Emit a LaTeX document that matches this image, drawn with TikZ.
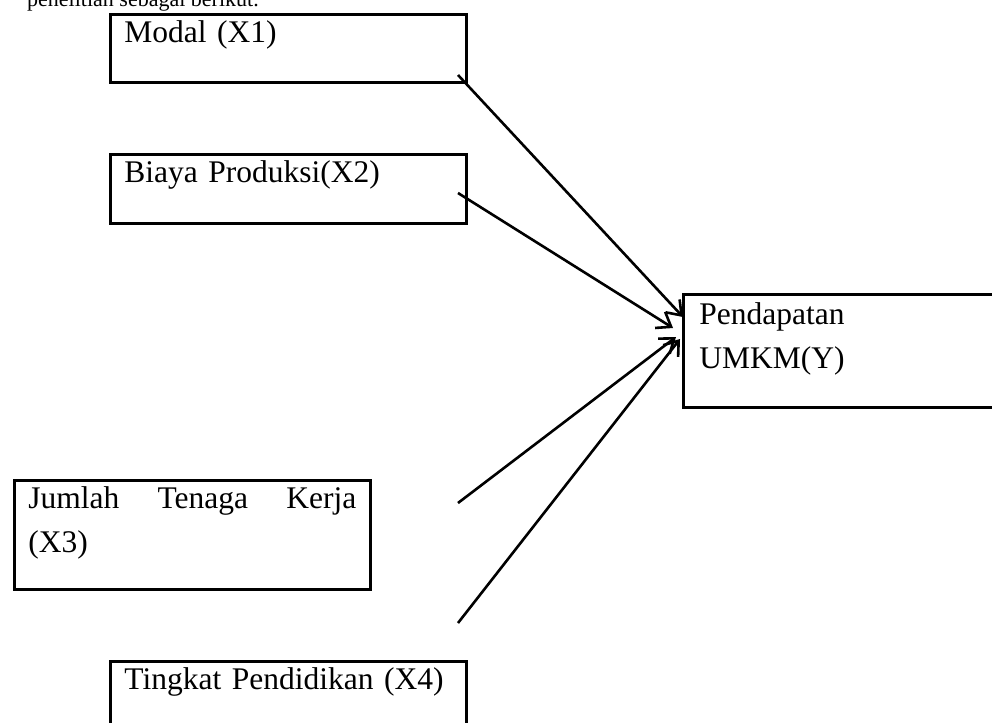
\documentclass[tikz,border=0pt]{standalone}
\usepackage{fontspec}
\setmainfont{Liberation Serif}
\usetikzlibrary{arrows.meta}
\begin{document}
\begin{tikzpicture}[x=1pt,y=-1pt]
	\tikzstyle{kotak}=[draw,line width=2.8pt,anchor=north west,align=left,inner xsep=14pt,inner ysep=0pt,text height=28pt,font=\fontsize{31.5}{44}\selectfont]
	\tikzstyle{panah}=[-{Straight Barb[length=13pt,width=19pt]},line width=2.6pt]
	\tikzstyle{teks}=[anchor=base west,inner sep=0pt,font=\fontsize{22}{26}\selectfont]
	\def\LebarTeks{328pt}
	\useasboundingbox (0,0) rectangle (992,722);
	\clip (0,0) rectangle (992,722);
	\node[teks] (kalimat) at (27,7) {penelitian sebagai berikut.};
	\node[kotak,text width=\LebarTeks,text depth=40pt] (X1) at (109,13) {Modal (X1)};
	\node[kotak,text width=\LebarTeks,text depth=41pt] (X2) at (109,153) {Biaya Produksi(X2)};
	\node[kotak,text width=\LebarTeks,text depth=81pt] (X3) at (13,479) {Jumlah\hfill Tenaga\hfill Kerja\\(X3)};
	\node[kotak,text width=\LebarTeks,text depth=100pt] (X4) at (109,660) {Tingkat Pendidikan (X4)};
	\node[kotak,inner xsep=16pt,text width=380pt,text height=30pt,text depth=83pt] (Y) at (682,293) {Pendapatan\\UMKM(Y)};
	\coordinate (a1) at (458,75);
	\coordinate (b1) at (683,317);
	\coordinate (a2) at (458,193);
	\coordinate (b2) at (673,328);
	\coordinate (a3) at (458,503);
	\coordinate (b3) at (676,337);
	\coordinate (a4) at (458,623);
	\coordinate (b4) at (680,339);
	\draw[panah] (a1)--(b1);
	\draw[panah] (a2)--(b2);
	\draw[panah] (a3)--(b3);
	\draw[panah] (a4)--(b4);
\end{tikzpicture}
\end{document}
